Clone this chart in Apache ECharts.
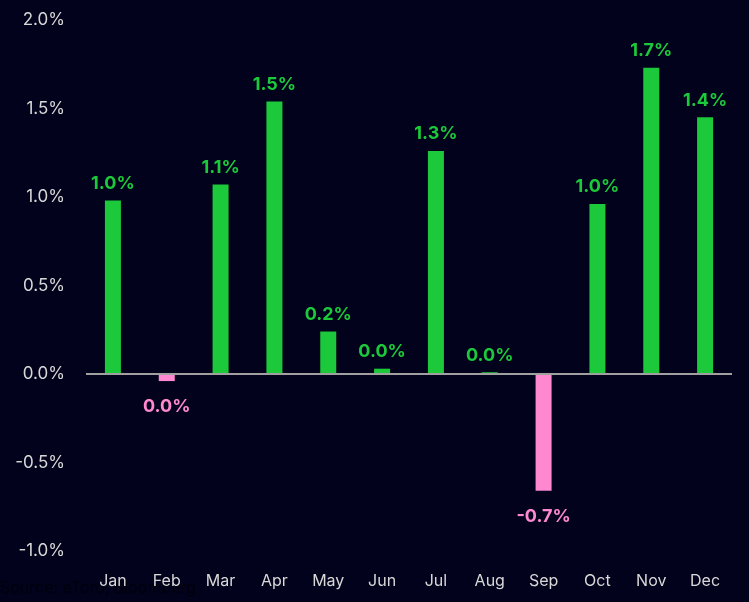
<!DOCTYPE html>
<html>
<head>
<meta charset="utf-8">
<script src="https://cdn.jsdelivr.net/npm/echarts@6/dist/echarts.min.js"></script>
<style>
html,body{margin:0;padding:0;background:#02021c;}
#c{width:749px;height:602px;}
</style>
</head>
<body>
<div id="c"></div>
<script>
const categories = ['Jan','Feb','Mar','Apr','May','Jun','Jul','Aug','Sep','Oct','Nov','Dec'];
const values = [0.98, -0.04, 1.07, 1.54, 0.24, 0.03, 1.26, 0.01, -0.66, 0.96, 1.73, 1.45];
const yTicks = [-1.0, -0.5, 0.0, 0.5, 1.0, 1.5, 2.0];
const sourceText = 'Source: eToro, Bloomberg';

const GREEN = '#1cc93a';
const PINK = '#ff88d0';
const FONT = 'Inter, "Open Sans", sans-serif';

function fmt(v){
  if (Math.abs(v) < 0.05) return '0.0%';
  return v.toFixed(1) + '%';
}

const chart = echarts.init(document.getElementById('c'));
chart.setOption({
  backgroundColor: '#02021c',
  animation: false,
  grid: {left: 86, right: 17, top: 20, bottom: 51, containLabel: false},
  graphic: [{
    type: 'text', left: 0, top: 580,
    style: {text: sourceText, fill: '#00000c', font: '16px ' + FONT}
  }],
  xAxis: {
    type: 'category',
    data: categories,
    axisLine: {show: false, onZero: false},
    axisTick: {show: false},
    axisLabel: {color: '#d8d8d8', fontSize: 16, fontFamily: FONT, margin: 22}
  },
  yAxis: {
    type: 'value',
    min: yTicks[0], max: yTicks[yTicks.length-1], interval: 0.5,
    splitLine: {show: false},
    axisLine: {show: false},
    axisTick: {show: false},
    axisLabel: {color: '#d8d8d8', fontSize: 17, fontFamily: FONT, margin: 21,
      formatter: v => v.toFixed(1) + '%'}
  },
  series: [{
    type: 'bar',
    barWidth: 16,
    data: values.map(v => ({
      value: v,
      itemStyle: {color: v >= 0 ? GREEN : PINK},
      label: {
        show: true,
        position: v >= 0 ? 'top' : 'bottom',
        distance: v >= 0 ? 8 : 17,
        color: v >= 0 ? GREEN : PINK,
        fontSize: 18, fontWeight: 'bold', fontFamily: FONT,
        formatter: p => fmt(p.value)
      }
    })),
    markLine: {
      silent: true, symbol: 'none',
      label: {show: false},
      lineStyle: {color: '#a0a0a0', width: 2, type: 'solid'},
      data: [{yAxis: 0}]
    }
  }]
});
</script>
</body>
</html>
